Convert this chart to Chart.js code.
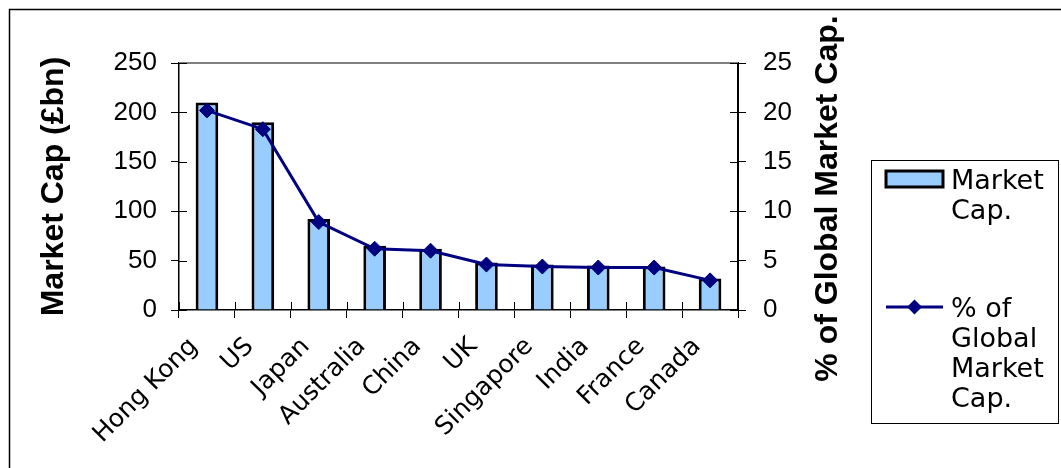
<!DOCTYPE html>
<html>
<head>
<meta charset="utf-8">
<script src="https://cdn.jsdelivr.net/npm/chart.js@4.4.1/dist/chart.umd.min.js"></script>
<style>
  html, body { margin: 0; padding: 0; background: #fff; }
  #wrap { width: 1061px; height: 468px; position: relative; }
</style>
</head>
<body>
<div id="wrap"><canvas id="chart" width="1061" height="468"></canvas></div>
<script>
// Market capitalisation by country
const countries   = ['Hong Kong', 'US', 'Japan', 'Australia', 'China', 'UK', 'Singapore', 'India', 'France', 'Canada'];
const marketCap   = [210, 190, 92, 65, 62, 48, 46, 45, 44, 32];          // £bn
const globalShare = [20.2, 18.3, 8.9, 6.2, 6.0, 4.6, 4.4, 4.3, 4.3, 3.0]; // % of global market cap
const capTicks    = [0, 50, 100, 150, 200, 250];
const shareTicks  = [0, 5, 10, 15, 20, 25];

const seriesNames = ['Market Cap.', '% of Global Market Cap.'];
const axisTitles  = ['Market Cap (£bn)', '% of Global Market Cap.'];

const BAR_FILL = '#99CCFF';
const LINE_COL = '#000080';
const TICK_FONT = { family: '"Liberation Sans", Arial, sans-serif', size: 26 };
const CAT_FONT  = { family: '"DejaVu Sans", Verdana, sans-serif', size: 25 };
const TITLE_FONT = { family: '"Liberation Sans", Arial, sans-serif', size: 32, weight: 'bold', lineHeight: 1.2 };

// Frame, plot border and the inner half of each tick mark
const framePlugin = {
  id: 'frame',
  beforeDraw(chart) {
    const ctx = chart.ctx;
    ctx.save();
    ctx.fillStyle = '#fff';
    ctx.fillRect(0, 0, chart.width, chart.height);
    ctx.strokeStyle = '#000';
    ctx.lineWidth = 1.5;
    ctx.strokeRect(9.5, 9.5, chart.width + 20, chart.height + 20);
    ctx.restore();
  },
  beforeDatasetsDraw(chart) {
    const ctx = chart.ctx, a = chart.chartArea;
    ctx.save();
    ctx.strokeStyle = '#808080';
    ctx.lineWidth = 2;
    ctx.beginPath();
    ctx.moveTo(a.left, a.top);
    ctx.lineTo(a.right, a.top);
    ctx.stroke();

    ctx.strokeStyle = '#000';
    ctx.lineWidth = 1;
    const len = 8;
    const y = chart.scales.y, y1 = chart.scales.y1, x = chart.scales.x;
    y.ticks.forEach((t, i) => {
      const p = Math.round(y.getPixelForTick(i)) + 0.5;
      ctx.beginPath(); ctx.moveTo(a.left, p); ctx.lineTo(a.left + len, p); ctx.stroke();
    });
    y1.ticks.forEach((t, i) => {
      const p = Math.round(y1.getPixelForTick(i)) + 0.5;
      ctx.beginPath(); ctx.moveTo(a.right - len, p); ctx.lineTo(a.right, p); ctx.stroke();
    });
    const n = countries.length;
    for (let i = 0; i <= n; i++) {
      const p = Math.round(x.left + i * x.width / n) + 0.5;
      ctx.beginPath(); ctx.moveTo(p, a.bottom - len); ctx.lineTo(p, a.bottom); ctx.stroke();
    }
    ctx.restore();
  }
};

// Right-hand axis title, reading bottom to top
const rightTitlePlugin = {
  id: 'rightTitle',
  afterDraw(chart) {
    const ctx = chart.ctx, a = chart.chartArea;
    ctx.save();
    ctx.font = `bold ${TITLE_FONT.size}px ${TITLE_FONT.family}`;
    ctx.fillStyle = '#000';
    ctx.textAlign = 'center';
    ctx.textBaseline = 'alphabetic';
    ctx.translate(837, (a.top + a.bottom) / 2 + 12);
    ctx.rotate(-Math.PI / 2);
    ctx.fillText(axisTitles[1], 0, 0);
    ctx.restore();
  }
};

// Boxed legend with wrapped entry names
const boxLegendPlugin = {
  id: 'boxLegend',
  afterDraw(chart, args, opts) {
    const ctx = chart.ctx;
    const b = opts.box;
    ctx.save();
    ctx.strokeStyle = '#000';
    ctx.lineWidth = 1;
    ctx.strokeRect(b.x + 0.5, b.y + 0.5, b.w, b.h);

    ctx.font = `${opts.fontSize}px ${opts.fontFamily}`;
    ctx.fillStyle = '#000';
    ctx.textBaseline = 'alphabetic';
    ctx.textAlign = 'left';

    const wrap = (text) => {
      const words = text.split(' ');
      const lines = [];
      let cur = '';
      words.forEach(w => {
        const test = cur ? cur + ' ' + w : w;
        if (cur && ctx.measureText(test).width > opts.maxTextWidth) { lines.push(cur); cur = w; }
        else cur = test;
      });
      if (cur) lines.push(cur);
      return lines;
    };

    let base = b.y + opts.firstBaseline;
    chart.data.datasets.forEach((ds) => {
      const lines = wrap(ds.label);
      const cy = base - opts.capCenter;
      const sx = b.x + opts.symbolLeft, sw = opts.symbolWidth;
      if (ds.type === 'bar') {
        ctx.fillStyle = ds.backgroundColor;
        ctx.fillRect(sx, cy - 8, sw, 16);
        ctx.strokeStyle = ds.borderColor;
        ctx.lineWidth = 3;
        ctx.strokeRect(sx, cy - 8, sw, 16);
      } else {
        ctx.strokeStyle = ds.borderColor;
        ctx.lineWidth = ds.borderWidth;
        ctx.beginPath(); ctx.moveTo(sx, cy); ctx.lineTo(sx + sw, cy); ctx.stroke();
        const r = ds.pointRadius, mx = sx + sw / 2;
        ctx.fillStyle = ds.pointBackgroundColor;
        ctx.beginPath();
        ctx.moveTo(mx, cy - r); ctx.lineTo(mx + r, cy); ctx.lineTo(mx, cy + r); ctx.lineTo(mx - r, cy);
        ctx.closePath(); ctx.fill();
      }
      ctx.fillStyle = '#000';
      lines.forEach((ln, i) => ctx.fillText(ln, b.x + opts.textLeft, base + i * opts.lineHeight));
      base += lines.length * opts.lineHeight + opts.itemGap;
    });
    ctx.restore();
  }
};

new Chart(document.getElementById('chart'), {
  data: {
    labels: countries,
    datasets: [
      {
        type: 'bar',
        label: seriesNames[0],
        data: marketCap,
        yAxisID: 'y',
        backgroundColor: BAR_FILL,
        borderColor: '#000',
        borderWidth: 3,
        barPercentage: 0.405,
        categoryPercentage: 1,
        order: 1
      },
      {
        type: 'line',
        label: seriesNames[1],
        data: globalShare,
        yAxisID: 'y1',
        borderColor: LINE_COL,
        borderWidth: 3,
        pointStyle: 'rectRot',
        pointRadius: 7.5,
        pointBackgroundColor: LINE_COL,
        pointBorderColor: LINE_COL,
        pointBorderWidth: 1,
        tension: 0,
        order: 0
      }
    ]
  },
  options: {
    responsive: false,
    animation: false,
    devicePixelRatio: 1,
    layout: { padding: { top: 63, left: 0, right: 0, bottom: 0 } },
    plugins: {
      legend: { display: false },
      tooltip: { enabled: false },
      boxLegend: {
        box: { x: 871, y: 160, w: 187, h: 263 },
        fontFamily: '"DejaVu Sans", Verdana, sans-serif',
        fontSize: 27,
        firstBaseline: 29,
        capCenter: 10,
        lineHeight: 30,
        itemGap: 68,
        symbolLeft: 15,
        symbolWidth: 57,
        textLeft: 80,
        maxTextWidth: 104
      }
    },
    scales: {
      x: {
        offset: true,
        grid: { offset: true, drawOnChartArea: false, color: '#000', tickLength: 8 },
        border: { color: '#000', width: 1.5 },
        ticks: { font: CAT_FONT, color: '#000', minRotation: 45, maxRotation: 45, padding: 14, labelOffset: -13, autoSkip: false },
        afterFit(s) { s.height = 158; }
      },
      y: {
        position: 'left',
        min: capTicks[0],
        max: capTicks[capTicks.length - 1],
        afterBuildTicks(s) { s.ticks = capTicks.map(v => ({ value: v })); },
        grid: { drawOnChartArea: false, color: '#000', tickLength: 8 },
        border: { color: '#000', width: 1.5 },
        ticks: { font: TICK_FONT, color: '#000', padding: 14 },
        title: { display: true, text: axisTitles[0], font: TITLE_FONT, color: '#000', padding: { top: 35, bottom: 0 } },
        afterFit(s) { s.width = 179; }
      },
      y1: {
        position: 'right',
        min: shareTicks[0],
        max: shareTicks[shareTicks.length - 1],
        afterBuildTicks(s) { s.ticks = shareTicks.map(v => ({ value: v })); },
        grid: { drawOnChartArea: false, color: '#000', tickLength: 8 },
        border: { color: '#000', width: 2 },
        ticks: { font: TICK_FONT, color: '#000', padding: 17 },
        afterFit(s) { s.width = 323; }
      }
    }
  },
  plugins: [framePlugin, rightTitlePlugin, boxLegendPlugin]
});
</script>
</body>
</html>
